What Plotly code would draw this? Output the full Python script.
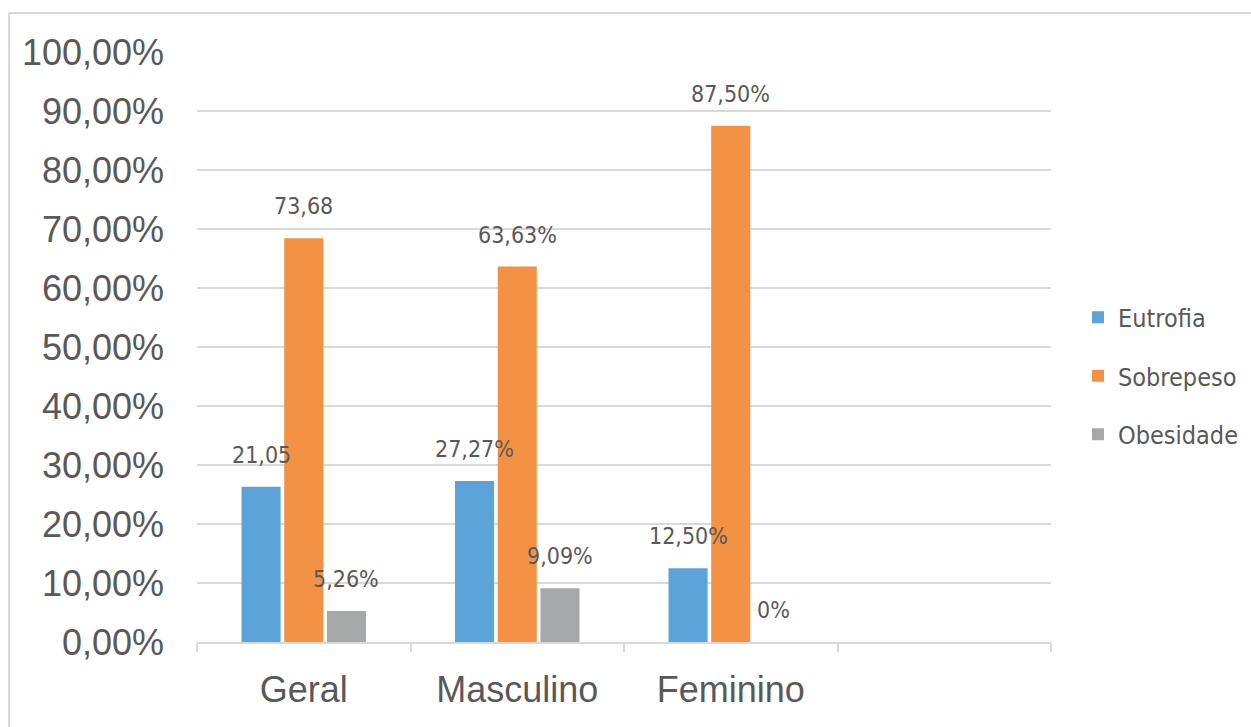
import plotly.graph_objects as go

# ---- data ----
categories = ["Geral", "Masculino", "Feminino", " "]
series_names = ["Eutrofia", "Sobrepeso", "Obesidade"]
eutrofia = [26.32, 27.27, 12.50, None]
sobrepeso = [68.42, 63.63, 87.50, None]
obesidade = [5.26, 9.09, 0.0, None]
eutrofia_labels = ["21,05", "27,27%", "12,50%"]
sobrepeso_labels = ["73,68", "63,63%", "87,50%"]
obesidade_labels = ["5,26%", "9,09%", "0%"]
y_ticks = [0.0, 0.1, 0.2, 0.3, 0.4, 0.5, 0.6, 0.7, 0.8, 0.9, 1.0]

colors = ["#5ba3d9", "#f39245", "#a6a8a9"]
values = [eutrofia, sobrepeso, obesidade]
labels = [eutrofia_labels, sobrepeso_labels, obesidade_labels]

AXIS_FONT = "Liberation Sans, Arial, sans-serif"
LABEL_FONT = "DejaVu Sans Condensed, DejaVu Sans, sans-serif"
TEXT_COLOR = "#595959"
GRID = "#d9d9d9"
BARGAP = 0.4
BARGROUPGAP = 0.085

fig = go.Figure()
for j, (name, vals, col) in enumerate(zip(series_names, values, colors)):
    fig.add_trace(go.Bar(
        x=categories,
        y=[v / 100 if v is not None else None for v in vals],
        name=name,
        marker=dict(color=col, line=dict(width=0)),
        legendgroup=name,
    ))

# data labels above each bar
n_series = len(series_names)
slot = (1 - BARGAP) / n_series
annotations = []
for j in range(n_series):
    for i, txt in enumerate(labels[j]):
        annotations.append(dict(
            x=i + (j - (n_series - 1) / 2) * slot,
            y=values[j][i] / 100,
            xref="x", yref="y",
            text=txt, showarrow=False,
            yanchor="middle", xanchor="center", yshift=32,
            font=dict(family=LABEL_FONT, size=23, color=TEXT_COLOR),
        ))

# chart frame lines (top and left edges)
L, R, T, B = 197, 200, 52, 85
W, H = 1251, 727
pw, ph = W - L - R, H - T - B
def px(x):
    return (x - L) / pw
def py(y):
    return (H - B - y) / ph

shapes = [
    dict(type="line", xref="paper", yref="paper", x0=px(9), x1=px(1260), y0=py(13), y1=py(13),
         line=dict(color=GRID, width=2)),
    dict(type="line", xref="paper", yref="paper", x0=px(9), x1=px(9), y0=py(13), y1=py(740),
         line=dict(color=GRID, width=2)),
]

fig.update_layout(
    width=W, height=H,
    margin=dict(l=L, r=R, t=T, b=B, pad=0, autoexpand=False),
    paper_bgcolor="white", plot_bgcolor="white",
    separators=",.",
    barmode="group", bargap=BARGAP, bargroupgap=BARGROUPGAP,
    font=dict(family=AXIS_FONT, color=TEXT_COLOR),
    showlegend=True,
    legend=dict(
        x=px(1078), xanchor="left", y=py(376), yanchor="middle",
        font=dict(family=LABEL_FONT, size=25, color=TEXT_COLOR),
        tracegroupgap=23, bgcolor="rgba(0,0,0,0)",
    ),
    annotations=annotations,
    shapes=shapes,
)
fig.update_xaxes(
    type="category", categoryorder="array", categoryarray=categories,
    range=[-0.5, len(categories) - 0.5], automargin=False,
    showline=True, linecolor=GRID, linewidth=2,
    ticks="outside", tickson="boundaries", ticklen=8, tickcolor=GRID, tickwidth=2,
    ticklabelstandoff=15,
    tickfont=dict(family=AXIS_FONT, size=36, color=TEXT_COLOR),
    showgrid=False,
)
fig.update_yaxes(
    range=[0, 1], tickvals=y_ticks, tickformat=".2%", automargin=False,
    showgrid=True, gridcolor=GRID, gridwidth=2, zeroline=False,
    showline=False, ticks="", ticklabelstandoff=32,
    tickfont=dict(family=AXIS_FONT, size=36, color=TEXT_COLOR),
)

fig.write_html("out.html")
